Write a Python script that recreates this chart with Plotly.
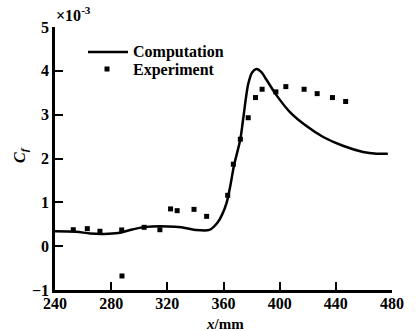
import plotly.graph_objects as go

comp_x = [240, 255, 265, 275, 285, 295, 305, 320, 330, 340, 350, 355.8, 359, 362.2, 365, 367.4, 372, 374, 377.6, 380.5, 383.5, 387, 390.7, 397.8, 407.3, 419.1, 431, 445, 459.4, 469, 477]
comp_y = [0.34, 0.33, 0.29, 0.28, 0.30, 0.38, 0.44, 0.45, 0.43, 0.37, 0.37, 0.54, 0.72, 0.99, 1.40, 1.83, 2.44, 2.90, 3.70, 3.97, 4.04, 3.97, 3.79, 3.44, 3.06, 2.74, 2.49, 2.29, 2.15, 2.11, 2.11]

exp_x = [253, 263, 272, 287.5, 287.7, 303.5, 314.7, 322.3, 327, 339, 348, 363, 367, 372, 377.6, 382.8, 387.5, 397.3, 404.4, 417.4, 426.7, 437.6, 447]
exp_y = [0.375, 0.40, 0.34, 0.37, -0.68, 0.43, 0.375, 0.85, 0.81, 0.84, 0.68, 1.16, 1.87, 2.44, 2.93, 3.39, 3.58, 3.52, 3.64, 3.58, 3.48, 3.39, 3.30]

x_ticks = [240, 280, 320, 360, 400, 440, 480]
y_ticks = [-1, 0, 1, 2, 3, 4, 5]

font_fam = "Liberation Serif"
L, R, T, B = 55, 28, 27, 41
PW, PH = 420 - L - R, 331 - T - B


def px(xp):
    return (xp - L) / PW


def py(yp):
    return (331 - B - yp) / PH


fig = go.Figure()
fig.add_trace(go.Scatter(x=comp_x, y=comp_y, mode="lines", name="Computation",
                         line=dict(color="black", width=2.5, shape="spline", smoothing=0.8),
                         showlegend=False))
fig.add_trace(go.Scatter(x=exp_x, y=exp_y, mode="markers", name="Experiment",
                         marker=dict(symbol="square", size=5, color="black"),
                         showlegend=False))

# legend drawn manually
fig.add_shape(type="line", xref="paper", yref="paper", x0=px(88), x1=px(128),
              y0=py(52), y1=py(52), line=dict(color="black", width=2.5))
fig.add_shape(type="rect", xref="paper", yref="paper", x0=px(104.5), x1=px(109.5),
              y0=py(71.5), y1=py(66.5), line=dict(width=0), fillcolor="black")
fig.add_annotation(xref="paper", yref="paper", x=px(131), y=py(52), text="<b>Computation</b>",
                   showarrow=False, xanchor="left", yanchor="middle",
                   font=dict(family=font_fam, size=16, color="black"))
fig.add_annotation(xref="paper", yref="paper", x=px(131), y=py(70), text="<b>Experiment</b>",
                   showarrow=False, xanchor="left", yanchor="middle",
                   font=dict(family=font_fam, size=16, color="black"))
fig.add_annotation(xref="paper", yref="paper", x=px(54), y=py(26), text="<b>×10<sup>-3</sup></b>",
                   showarrow=False, xanchor="left", yanchor="bottom",
                   font=dict(family=font_fam, size=16, color="black"))
# axis titles
fig.add_annotation(xref="paper", yref="paper", x=px(225), y=py(333), text="<b><i>x</i>/mm</b>",
                   showarrow=False, xanchor="center", yanchor="bottom", borderpad=0,
                   font=dict(family=font_fam, size=15, color="black"))
fig.add_annotation(xref="paper", yref="paper", x=px(20), y=py(155), text="<b><i>C<sub>f</sub></i></b>",
                   showarrow=False, xanchor="center", yanchor="middle", textangle=-90,
                   font=dict(family=font_fam, size=16, color="black"))

fig.update_layout(
    width=420, height=331,
    margin=dict(l=L, r=R, t=T, b=B),
    paper_bgcolor="white", plot_bgcolor="white",
    font=dict(family=font_fam, size=16, color="black"),
)
fig.update_xaxes(range=[240, 480], tickvals=x_ticks, ticktext=[f"<b>{v}</b>" for v in x_ticks],
                 showline=True, linecolor="black", linewidth=2.5, ticks="inside", ticklen=8,
                 tickwidth=2, tickcolor="black", showgrid=False, zeroline=False,
                 tickfont=dict(size=16), ticklabelstandoff=-3, automargin=False)
fig.update_yaxes(range=[-1, 5], tickvals=y_ticks, ticktext=[f"<b>{'−1' if v == -1 else v}</b>" for v in y_ticks],
                 showline=True, linecolor="black", linewidth=2.5, ticks="inside", ticklen=8,
                 tickwidth=2, tickcolor="black", showgrid=False, zeroline=False,
                 tickfont=dict(size=16), automargin=False)

fig.write_html("out.html")
